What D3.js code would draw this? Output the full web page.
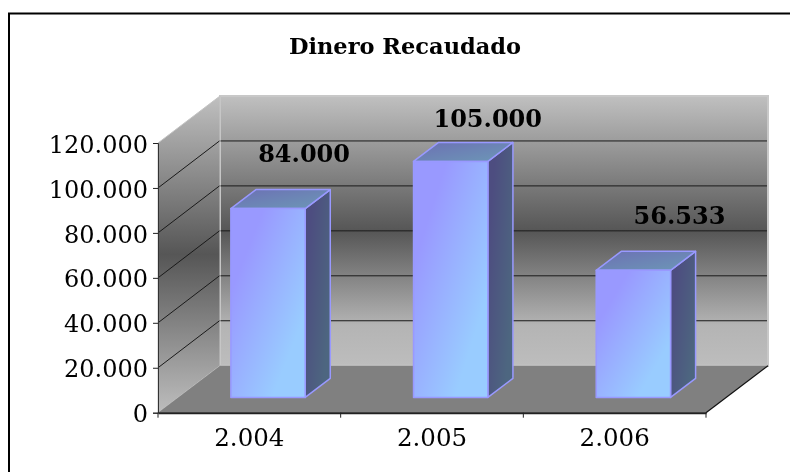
<!DOCTYPE html>
<html>
<head>
<meta charset="utf-8">
<script src="https://cdn.jsdelivr.net/npm/d3@7"></script>
<style>
    html, body { margin: 0; padding: 0; background: #fff; }
    svg { display: block; }
    text { font-family: "DejaVu Serif", serif; fill: #000; }
</style>
</head>
<body>
<svg id="chart" width="790" height="472"></svg>
<script>
var years = ["2.004", "2.005", "2.006"]
var recaudado = [84000, 105000, 56533]
var yTicks = [0, 20000, 40000, 60000, 80000, 100000, 120000]
var labels = ["84.000", "105.000", "56.533"]
var title = "Dinero Recaudado"

var svg = d3.select("#chart")

var dimensions = {
    left: 158, right: 706, top: 143, bottom: 412.7,
    depthX: 62, depthY: -47
}

var xScale = d3.scaleBand()
               .domain(years)
               .range([dimensions.left, dimensions.right])
var yScale = d3.scaleLinear()
               .domain([0, 120000])
               .range([dimensions.bottom, dimensions.top])

// depth goes 0 (front of the box) to 1 (back wall)
var dx = d3.scaleLinear().domain([0, 1]).range([0, dimensions.depthX])
var dy = d3.scaleLinear().domain([0, 1]).range([0, dimensions.depthY])
var pt = (x, y, z) => [x + dx(z), y + dy(z)]
var poly = pts => "M" + pts.map(p => p.join(",")).join("L") + "Z"

var defs = svg.append("defs")
function gradient(id, x1, y1, x2, y2, stops) {
    var g = defs.append("linearGradient")
                .attr("id", id)
                .attr("x1", x1).attr("y1", y1).attr("x2", x2).attr("y2", y2)
    stops.forEach(s => g.append("stop").attr("offset", s[0]).attr("stop-color", s[1]))
}
gradient("wall", 0, 0, 0, 1, [[0, "#c0c0c0"], [0.5, "#565656"], [0.85, "#b4b4b4"], [1, "#bdbdbd"]])
gradient("sideWall", 0, 0, 0, 1, [[0, "#c0c0c0"], [0.5, "#565656"], [1, "#bdbdbd"]])
gradient("front", 0.1, 0.1, 0.9, 0.9, [[0.15, "#9999ff"], [0.85, "#99ccff"]])
gradient("side", 0, 0.1, 1, 0.9, [[0.15, "#4d4d80"], [0.85, "#4d6680"]])
gradient("top", 0, 0, 1, 1, [[0, "#6c70b4"], [1, "#6c98b6"]])

// soft edge on the text, the original is a scaled up bitmap
defs.append("filter").attr("id", "soft")
    .append("feGaussianBlur").attr("stdDeviation", 0.35)

// frame
svg.append("path")
   .attr("d", "M9,472V13.5H790")
   .attr("fill", "none")
   .attr("stroke", "#000")
   .attr("stroke-width", 2)

svg.append("text")
   .attr("x", 405)
   .attr("y", 54)
   .attr("text-anchor", "middle")
   .attr("font-size", 22.5)
   .attr("font-weight", "bold")
   .attr("filter", "url(#soft)")
   .text(title)

// walls and floor
var y0 = yScale(0), yMax = yScale(120000)
var xL = dimensions.left, xR = dimensions.right

svg.append("path")
   .attr("d", poly([pt(xL, yMax, 1), pt(xR, yMax, 1), pt(xR, y0, 1), pt(xL, y0, 1)]))
   .attr("fill", "url(#wall)")
   .attr("stroke", "#c8c8c8")
   .attr("stroke-width", 2)
svg.append("path")
   .attr("d", poly([pt(xL, yMax, 0), pt(xL, yMax, 1), pt(xL, y0, 1), pt(xL, y0, 0)]))
   .attr("fill", "url(#sideWall)")
   .attr("stroke", "#c4c4c4")
   .attr("stroke-width", 1)
svg.append("path")
   .attr("d", poly([pt(xL, y0, 0), pt(xL, y0, 1), pt(xR, y0, 1), pt(xR, y0, 0)]))
   .attr("fill", "#808080")

// gridlines, side wall then back wall
svg.append("g")
   .selectAll("path")
   .data(yTicks.filter(d => d > 0 && d < 120000))
   .enter()
   .append("path")
   .attr("d", d => "M" + pt(xL, yScale(d), 0) + "L" + pt(xL - 0.5, yScale(d), 1) + "M" + pt(xL + 0.5, yScale(d), 1) + "L" + pt(xR - 1, yScale(d), 1))
   .attr("fill", "none")
   .attr("stroke", "#1a1a1a")
   .attr("stroke-width", 1)

// floor edges
svg.append("path")
   .attr("d", "M" + pt(xR, y0, 0) + "L" + pt(xR, y0, 1))
   .attr("stroke", "#111")
   .attr("stroke-width", 1.2)

// bars
var barFront = 0.326, barBack = 0.73, barShare = 0.407
var barW = xScale.bandwidth() * barShare
var bars = svg.append("g")
              .selectAll("g")
              .data(recaudado)
              .enter()
              .append("g")
              .attr("stroke", "#9999ff")
              .attr("stroke-width", 1.5)
              .attr("stroke-linejoin", "round")
var barX = (d, i) => xScale(years[i]) + (xScale.bandwidth() - barW) / 2 - 1.5

bars.append("path")
    .attr("fill", "url(#side)")
    .attr("d", (d, i) => {
        var x = barX(d, i) + barW
        return poly([pt(x, yScale(d), barFront), pt(x, yScale(d), barBack), pt(x, y0, barBack), pt(x, y0, barFront)])
    })
bars.append("path")
    .attr("fill", "url(#top)")
    .attr("d", (d, i) => {
        var x = barX(d, i)
        return poly([pt(x, yScale(d), barFront), pt(x, yScale(d), barBack), pt(x + barW, yScale(d), barBack), pt(x + barW, yScale(d), barFront)])
    })
bars.append("path")
    .attr("fill", "url(#front)")
    .attr("d", (d, i) => {
        var x = barX(d, i)
        return poly([pt(x, yScale(d), barFront), pt(x + barW, yScale(d), barFront), pt(x + barW, y0, barFront), pt(x, y0, barFront)])
    })

// axes
var numberFormat = d3.formatLocale({ decimal: ",", thousands: ".", grouping: [3], currency: ["", ""] }).format(",")
var yAxisGen = d3.axisLeft(yScale)
                 .tickValues(yTicks)
                 .tickFormat(numberFormat)
                 .tickSize(5)
                 .tickPadding(5)
var yAxis = svg.append("g")
               .attr("transform", `translate(${xL},0)`)
               .call(yAxisGen)
yAxis.selectAll("text")
     .attr("font-size", 24)
     .attr("dy", "0.38em")
     .attr("filter", "url(#soft)")
     .style("font-family", "DejaVu Serif")
yAxis.selectAll("line").attr("stroke", "#222")
yAxis.select(".domain").attr("stroke", "#333")

var xAxisGen = d3.axisBottom(xScale).tickSize(0).tickPadding(16)
var xAxis = svg.append("g")
               .attr("transform", `translate(0,${y0})`)
               .call(xAxisGen)
xAxis.selectAll("text")
     .attr("font-size", 24.5)
     .attr("filter", "url(#soft)")
     .style("font-family", "DejaVu Serif")
xAxis.select(".domain").attr("stroke", "#222").attr("stroke-width", 2)

svg.append("g")
   .selectAll("line")
   .data(years.concat([null]))
   .enter()
   .append("line")
   .attr("x1", d => d ? xScale(d) : xR)
   .attr("x2", d => d ? xScale(d) : xR)
   .attr("y1", y0)
   .attr("y2", y0 + 5)
   .attr("stroke", "#222")

// data labels were hand placed in the original, so each gets its own nudge
var labelNudge = [[11, -28], [12, -15], [21, -27]]
svg.append("g")
   .selectAll("text")
   .data(recaudado)
   .enter()
   .append("text")
   .attr("text-anchor", "middle")
   .attr("font-size", 24)
   .attr("font-weight", "bold")
   .attr("filter", "url(#soft)")
   .attr("x", (d, i) => pt(barX(d, i) + barW / 2, yScale(d), barBack)[0] + labelNudge[i][0])
   .attr("y", (d, i) => pt(0, yScale(d), barBack)[1] + labelNudge[i][1])
   .text((d, i) => labels[i])
</script>
</body>
</html>
